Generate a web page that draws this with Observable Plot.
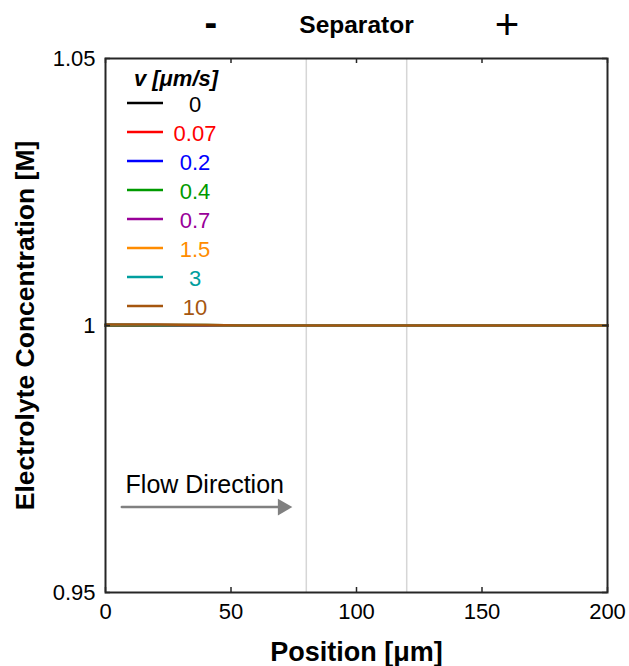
<!DOCTYPE html>
<html>
<head>
<meta charset="utf-8">
<script src="https://cdn.jsdelivr.net/npm/d3@7"></script>
<script src="https://cdn.jsdelivr.net/npm/@observablehq/plot@0.6"></script>
<style>
  html, body { margin: 0; padding: 0; background: #fff; }
  #chart svg { display: block; font-family: "Liberation Sans", Arial, Helvetica, sans-serif; }
</style>
</head>
<body>
<div id="chart"></div>
<script>
// ---------- data ----------
const positions = [0, 20, 40, 55, 80, 100, 120, 140, 160, 180, 200];
const velocities = ["0", "0.07", "0.2", "0.4", "0.7", "1.5", "3", "10"];
const seriesColors = ["#000000", "#ff0000", "#0000ff", "#009a00", "#990099", "#ff8c00", "#009e9e", "#a5560f"];
const conc_v0    = [1.0, 1.0, 1.0, 1.0, 1.0, 1.0, 1.0, 1.0, 1.0, 1.0, 1.0];
const conc_v0_07 = [1.0, 1.0, 1.0, 1.0, 1.0, 1.0, 1.0, 1.0, 1.0, 1.0, 1.0];
const conc_v0_2  = [1.0, 1.0, 1.0, 1.0, 1.0, 1.0, 1.0, 1.0, 1.0, 1.0, 1.0];
const conc_v0_4  = [1.0, 1.0, 1.0, 1.0, 1.0, 1.0, 1.0, 1.0, 1.0, 1.0, 1.0];
const conc_v0_7  = [1.0001, 1.0001, 1.0, 1.0, 1.0, 1.0, 1.0, 1.0, 1.0, 1.0, 1.0];
const conc_v1_5  = [1.0001, 1.0001, 1.0001, 1.0, 1.0, 1.0, 1.0, 1.0, 1.0, 1.0, 1.0];
const conc_v3    = [1.0002, 1.0001, 1.0001, 1.0, 1.0, 1.0, 1.0, 1.0, 1.0, 1.0, 1.0];
const conc_v10   = [1.0002, 1.0002, 1.0001, 1.0, 1.0, 1.0, 1.0, 1.0, 1.0, 1.0, 1.0];
const seriesValues = [conc_v0, conc_v0_07, conc_v0_2, conc_v0_4, conc_v0_7, conc_v1_5, conc_v3, conc_v10];

const xTicks = [0, 50, 100, 150, 200];
const yTicks = [0.95, 1, 1.05];
const yTickLabels = ["0.95", "1", "1.05"];
const separatorBounds = [80, 120];
const regionLabelX = [42, 100, 160];
const regionLabels = ["-", "Separator", "+"];
const flowLabel = "Flow Direction";
const flowTextX = 8, flowTextY = 0.9702;
const flowArrowX = [6.5, 69];
const flowArrowY = 0.966;
const flowHeadX = 70.6;
const legendTitle = "v [μm/s]";

// ---------- build ----------
const rows = velocities.flatMap((v, i) =>
  positions.map((p, j) => ({ v, x: p, c: seriesValues[i][j] })));

const FONT = '"Liberation Sans", Arial, Helvetica, sans-serif';
const W = 629, H = 666, ML = 105, MR = 22, MT = 58, MB = 74;
const PW = W - ML - MR, PH = H - MT - MB, TICK = 5;

function legendMark(index, scales, values, dims) {
  const ml = dims.marginLeft, mt = dims.marginTop;
  const g = d3.create("svg:g").attr("font-family", FONT);
  g.append("text")
    .attr("x", ml + 71).attr("y", mt + 20)
    .attr("text-anchor", "middle").attr("dominant-baseline", "central")
    .attr("font-size", 22).attr("font-weight", "bold").attr("font-style", "italic")
    .attr("fill", "#000").text(legendTitle);
  velocities.forEach((v, i) => {
    const y = mt + 45 + 29 * i;
    const col = scales.color(v);
    g.append("line")
      .attr("x1", ml + 22).attr("x2", ml + 58).attr("y1", y).attr("y2", y)
      .attr("stroke", col).attr("stroke-width", 2.5);
    g.append("text")
      .attr("x", ml + 90).attr("y", y + 1)
      .attr("text-anchor", "middle").attr("dominant-baseline", "central")
      .attr("font-size", 22).attr("fill", col).text(v);
  });
  return g.node();
}

const tickStyle = { stroke: "#262626", strokeWidth: 1.5 };

const chart = Plot.plot({
  width: W,
  height: H,
  marginLeft: ML,
  marginRight: MR,
  marginTop: MT,
  marginBottom: MB,
  style: { fontFamily: FONT, fontSize: "22px", color: "#000", background: "#fff" },
  x: { domain: [0, 200] },
  y: { domain: [0.95, 1.05] },
  color: { domain: velocities, range: seriesColors },
  marks: [
    Plot.ruleX(separatorBounds, { stroke: "#d6d6d6", strokeWidth: 1.5 }),
    Plot.line(rows, { x: "x", y: "c", z: "v", stroke: "v", strokeWidth: 2.5 }),
    // inward ticks on all four sides
    Plot.tickX(xTicks, { x: d => d, insetTop: PH - TICK, ...tickStyle }),
    Plot.tickX(xTicks, { x: d => d, insetBottom: PH - TICK, ...tickStyle }),
    Plot.tickY(yTicks, { y: d => d, insetRight: PW - TICK, ...tickStyle }),
    Plot.tickY(yTicks, { y: d => d, insetLeft: PW - TICK, ...tickStyle }),
    Plot.axisX(xTicks, { anchor: "bottom", tickSize: 0, tickPadding: 11, fontSize: 22, label: null, tickFormat: d => String(d) }),
    Plot.axisY(yTicks, { anchor: "left", tickSize: 0, tickPadding: 10, fontSize: 22, label: null, tickFormat: d => yTickLabels[yTicks.indexOf(d)] }),
    Plot.frame({ stroke: "#262626", strokeWidth: 2 }),
    Plot.text([regionLabels[0]], { x: () => regionLabelX[0], frameAnchor: "top", dy: -35, fontSize: 38, fontWeight: "bold", lineAnchor: "middle" }),
    Plot.text([regionLabels[1]], { x: () => regionLabelX[1], frameAnchor: "top", dy: -33, fontSize: 24.5, fontWeight: "bold", lineAnchor: "middle" }),
    Plot.text([regionLabels[2]], { x: () => regionLabelX[2], frameAnchor: "top", dy: -33, fontSize: 42, lineAnchor: "middle" }),
    Plot.text(["Position [μm]"], { frameAnchor: "bottom", dy: 60, fontSize: 27, fontWeight: "bold", lineAnchor: "middle" }),
    Plot.text(["Electrolyte Concentration [M]"], { frameAnchor: "left", dx: -80, rotate: -90, textAnchor: "middle", fontSize: 26.5, fontWeight: "bold", lineAnchor: "middle" }),
    Plot.text([flowLabel], { x: () => flowTextX, y: () => flowTextY, textAnchor: "start", lineAnchor: "middle", fontSize: 25, fill: "#000" }),
    Plot.line(flowArrowX, { x: d => d, y: () => flowArrowY, stroke: "#808080", strokeWidth: 2.5 }),
    Plot.dot([flowHeadX], { x: d => d, y: () => flowArrowY, symbol: "triangle", r: 6.2, rotate: 90, fill: "#808080", stroke: "none" }),
    legendMark
  ]
});
document.getElementById("chart").appendChild(chart);
</script>
</body>
</html>
